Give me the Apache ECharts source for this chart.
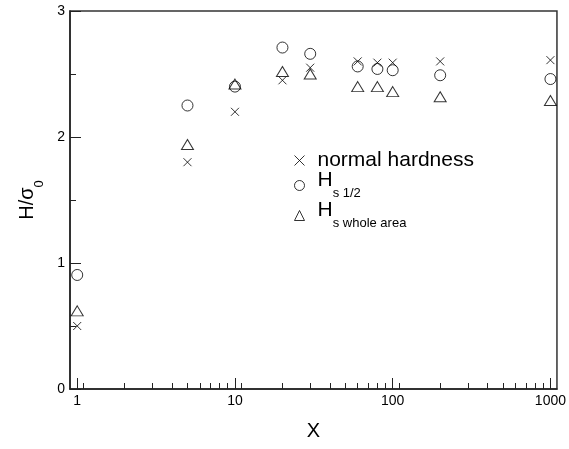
<!DOCTYPE html>
<html>
<head>
<meta charset="utf-8">
<script src="https://cdn.jsdelivr.net/npm/echarts@6/dist/echarts.min.js"></script>
<style>
  html, body { margin: 0; padding: 0; background: #fff; }
  #chart { width: 569px; height: 449px; }
</style>
</head>
<body>
<div id="chart"></div>
<script>
var xValues = [1, 5, 10, 20, 30, 60, 80, 100, 200, 1000];
var normalHardness = [0.50, 1.80, 2.20, 2.45, 2.55, 2.60, 2.59, 2.59, 2.60, 2.61];
var hsHalf = [0.905, 2.25, 2.40, 2.71, 2.66, 2.56, 2.54, 2.53, 2.49, 2.46];
var hsWhole = [0.62, 1.94, 2.42, 2.52, 2.50, 2.40, 2.40, 2.36, 2.32, 2.29];
var xMajorTicks = [1, 10, 100, 1000];
var xMinorTicks = [1.1, 2, 3, 4, 5, 6, 7, 8, 9, 11, 20, 30, 40, 50, 60, 70, 80, 90, 110, 200, 300, 400, 500, 600, 700, 800, 900];

var font = "'Liberation Sans', Arial, sans-serif";

function pairs(ys) {
  return xValues.map(function (x, i) { return [x, ys[i]]; });
}

var chartDom = document.getElementById('chart');
var myChart = echarts.init(chartDom);

var markerStyle = { color: 'rgba(255,255,255,0)', borderColor: '#000', borderWidth: 1 };

var option = {
  animation: false,
  grid: {
    left: 70, right: 9, top: 11, bottom: 60,
    show: true, borderColor: '#333', borderWidth: 1.5
  },
  legend: {
    orient: 'vertical',
    left: 294,
    top: 150,
    padding: 0,
    itemWidth: 10,
    itemHeight: 10,
    itemGap: -1,
    selectedMode: false,
    itemStyle: { borderWidth: 1 },
    data: ['normal hardness', 'Hs 1/2', 'Hs whole area'],
    formatter: function (name) {
      if (name === 'normal hardness') return '{t|normal hardness}';
      if (name === 'Hs 1/2') return '{h|H}{s|s 1/2}';
      return '{h|H}{s|s whole area}';
    },
    textStyle: {
      color: '#000',
      padding: [0, 0, 0, 8],
      rich: {
        t: { fontFamily: font, fontSize: 21, lineHeight: 22, color: '#000' },
        h: { fontFamily: font, fontSize: 21, lineHeight: 22, color: '#000', padding: [0, 0, 10, 0] },
        s: { fontFamily: font, fontSize: 13, lineHeight: 22, color: '#000', padding: [15, 0, 0, 0] }
      }
    }
  },
  xAxis: [
    {
      type: 'log',
      min: 0.9,
      max: 1100,
      name: 'X',
      nameLocation: 'middle',
      nameGap: 32,
      nameTextStyle: { fontFamily: font, fontSize: 20, color: '#000' },
      axisLine: { lineStyle: { color: '#222', width: 1.5 } },
      axisTick: { inside: true, length: 11, customValues: xMajorTicks, lineStyle: { color: '#222' } },
      axisLabel: {
        customValues: xMajorTicks,
        margin: 5,
        fontFamily: font, fontSize: 14, color: '#000',
        formatter: function (v) { return String(Math.round(v)); }
      },
      splitLine: { show: false }
    },
    {
      type: 'log',
      min: 0.9,
      max: 1100,
      position: 'bottom',
      axisLine: { show: false },
      axisTick: { inside: true, length: 6, customValues: xMinorTicks, lineStyle: { color: '#222' } },
      axisLabel: { show: false },
      splitLine: { show: false }
    }
  ],
  yAxis: {
    type: 'value',
    min: 0,
    max: 3,
    interval: 1,
    name: '{m|H/σ}{s|0}',
    nameLocation: 'middle',
    nameRotate: 90,
    nameGap: 30,
    nameTextStyle: {
      rich: {
        m: { fontFamily: font, fontSize: 20, lineHeight: 22, color: '#000' },
        s: { fontFamily: font, fontSize: 13, lineHeight: 22, color: '#000', padding: [25, 0, 0, 0] }
      }
    },
    axisLine: { show: true, lineStyle: { color: '#222', width: 1.5 } },
    axisTick: { show: true, inside: true, length: 11, lineStyle: { color: '#222' } },
    minorTick: { show: true, splitNumber: 2, length: 6, lineStyle: { color: '#222' } },
    axisLabel: { margin: 5, fontFamily: font, fontSize: 14, color: '#000' },
    splitLine: { show: false }
  },
  series: [
    {
      name: 'normal hardness',
      type: 'scatter',
      symbol: 'path://M0,0L10,10M10,0L0,10',
      symbolSize: 8,
      itemStyle: markerStyle,
      data: pairs(normalHardness)
    },
    {
      name: 'Hs 1/2',
      type: 'scatter',
      symbol: 'circle',
      symbolSize: 11,
      itemStyle: markerStyle,
      data: pairs(hsHalf)
    },
    {
      name: 'Hs whole area',
      type: 'scatter',
      symbol: 'triangle',
      symbolSize: [12, 10],
      itemStyle: markerStyle,
      data: pairs(hsWhole)
    }
  ]
};

option && myChart.setOption(option);
</script>
</body>
</html>
